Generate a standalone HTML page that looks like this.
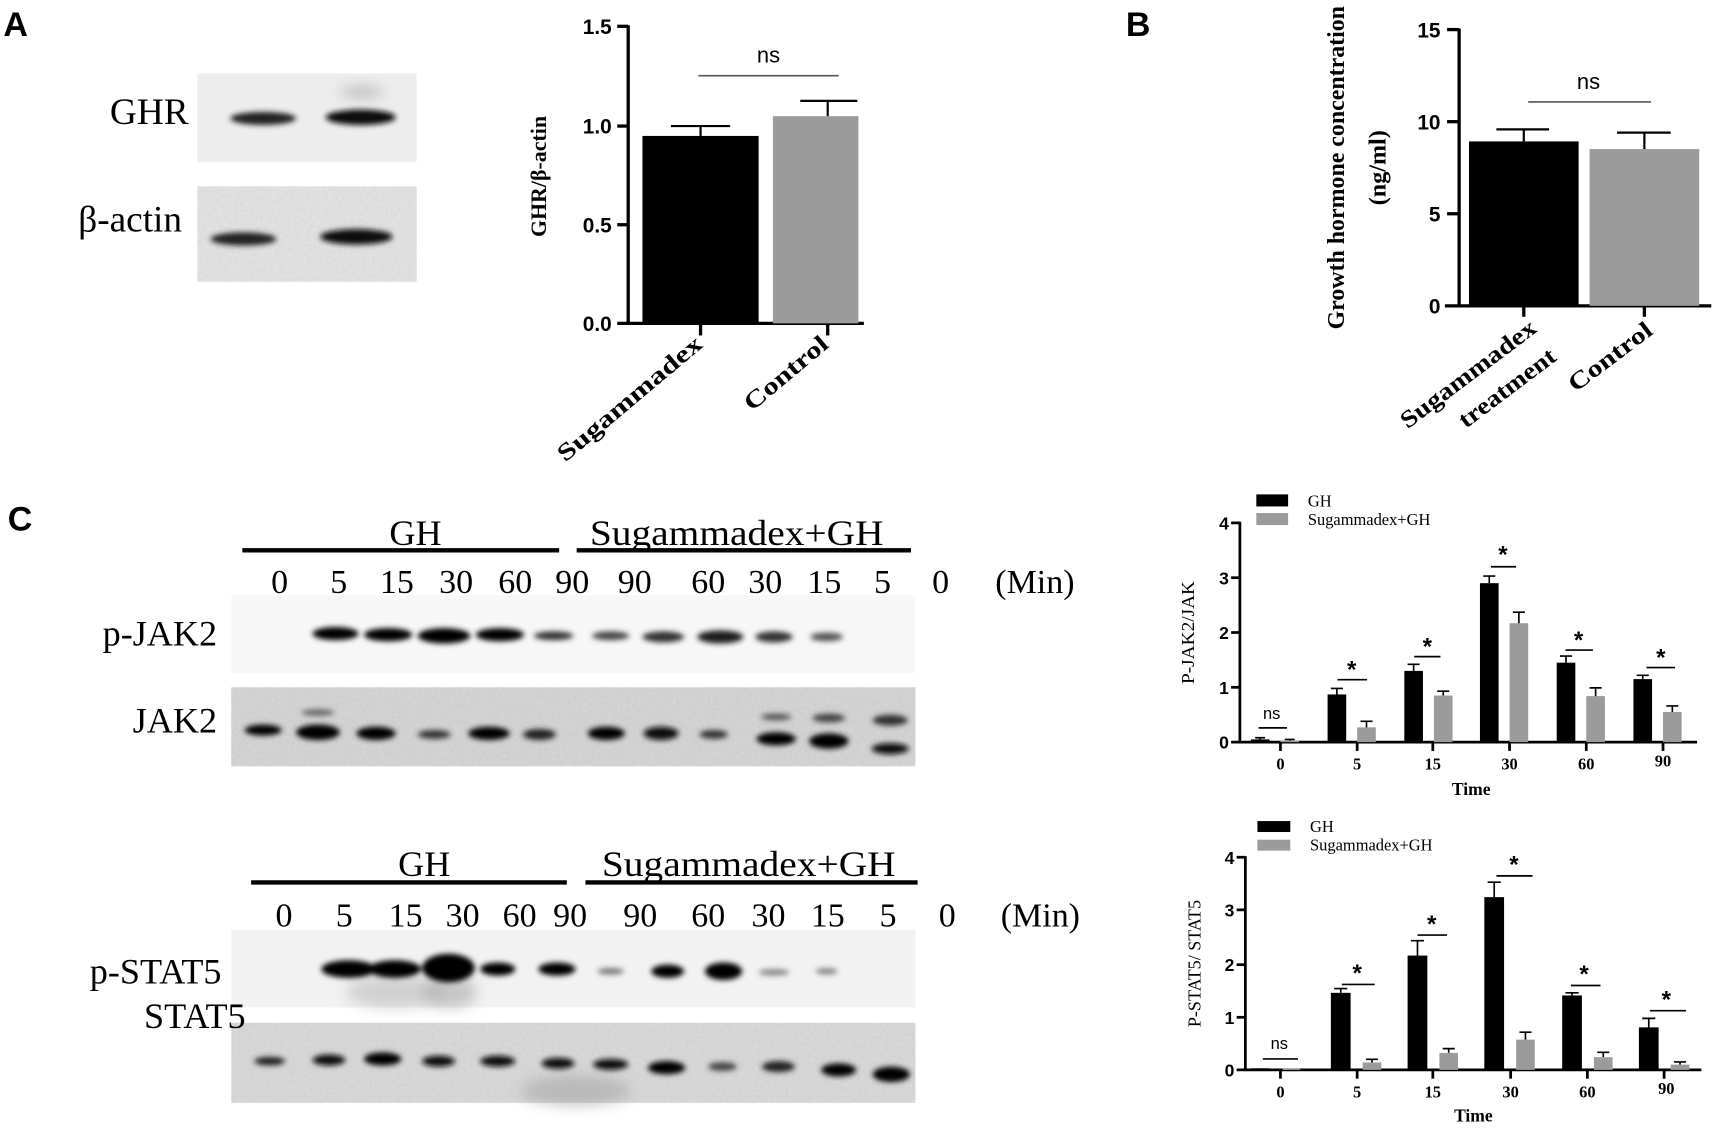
<!DOCTYPE html>
<html><head><meta charset="utf-8"><style>
html,body{margin:0;padding:0;background:#fff}
svg{display:block}
.ser{font-family:"Liberation Serif",serif}
.sans{font-family:"Liberation Sans",sans-serif}
</style></head><body>
<svg width="1719" height="1128" viewBox="0 0 1568 1029" xmlns="http://www.w3.org/2000/svg">
<defs>
<filter id="bl" x="-50%" y="-100%" width="200%" height="300%"><feGaussianBlur stdDeviation="2.5"/></filter>
<filter id="bl2" x="-50%" y="-100%" width="200%" height="300%"><feGaussianBlur stdDeviation="6"/></filter>
<filter id="nz" x="0" y="0" width="100%" height="100%"><feTurbulence type="fractalNoise" baseFrequency="0.35" numOctaves="2" seed="3"/><feColorMatrix type="matrix" values="0 0 0 0 0.5  0 0 0 0 0.5  0 0 0 0 0.5  0 0 0 -1.2 1.1"/></filter>
</defs>
<rect width="1568" height="1029" fill="#fff"/>

<!-- ===== Panel A ===== -->
<text x="3" y="33" class="sans" font-weight="bold" font-size="31">A</text>
<rect x="180" y="67" width="200" height="81" fill="#ededed"/>
<ellipse cx="330" cy="84" rx="20" ry="5" fill="#999" filter="url(#bl2)" opacity="0.6"/>
<ellipse cx="240" cy="108" rx="30" ry="6" fill="#222" filter="url(#bl)"/>
<ellipse cx="329" cy="107" rx="32" ry="7" fill="#111" filter="url(#bl)"/>
<rect x="180" y="170" width="200" height="87" fill="#e4e4e4"/>
<rect x="180" y="170" width="200" height="87" filter="url(#nz)" opacity="0.25"/>
<ellipse cx="222" cy="218" rx="30" ry="6" fill="#222" filter="url(#bl)"/>
<ellipse cx="325" cy="216" rx="33" ry="7" fill="#0d0d0d" filter="url(#bl)"/>
<text x="172" y="113" text-anchor="end" class="ser" font-size="34">GHR</text>
<text x="166" y="211" text-anchor="end" class="ser" font-size="34">β-actin</text>

<!-- A bar chart -->
<g class="sans" font-weight="bold" font-size="19" text-anchor="end">
<text x="558" y="31">1.5</text><text x="558" y="122">1.0</text><text x="558" y="212">0.5</text><text x="558" y="302">0.0</text>
</g>
<g stroke="#000" stroke-width="3">
<line x1="573" y1="23" x2="573" y2="296"/>
<line x1="563" y1="24" x2="573" y2="24"/><line x1="563" y1="115" x2="573" y2="115"/><line x1="563" y1="205" x2="573" y2="205"/>
<line x1="563" y1="295" x2="788" y2="295"/>
<line x1="639" y1="295" x2="639" y2="306"/><line x1="755" y1="295" x2="755" y2="306"/>
</g>
<rect x="586" y="124" width="106" height="171" fill="#000"/>
<rect x="705" y="106" width="78" height="189" fill="#9b9b9b"/>
<g stroke="#000" stroke-width="2">
<line x1="639" y1="124" x2="639" y2="115"/><line x1="612" y1="115" x2="666" y2="115"/>
<line x1="755" y1="106" x2="755" y2="92"/><line x1="730" y1="92" x2="782" y2="92"/>
</g>
<line x1="637" y1="69" x2="765" y2="69" stroke="#555" stroke-width="1.5"/>
<text x="701" y="57" text-anchor="middle" class="sans" font-size="20">ns</text>
<text transform="translate(498,161) rotate(-90)" text-anchor="middle" class="ser" font-weight="bold" font-size="20">GHR/β-actin</text>
<text transform="translate(642,316) rotate(-40)" text-anchor="end" class="ser" font-weight="bold" font-size="22" textLength="165" lengthAdjust="spacingAndGlyphs">Sugammadex</text>
<text transform="translate(757,316) rotate(-40)" text-anchor="end" class="ser" font-weight="bold" font-size="22" textLength="93" lengthAdjust="spacingAndGlyphs">Control</text>

<!-- ===== Panel B ===== -->
<text x="1027" y="33" class="sans" font-weight="bold" font-size="31">B</text>
<g class="sans" font-weight="bold" font-size="19" text-anchor="end">
<text x="1314" y="34">15</text><text x="1314" y="118">10</text><text x="1314" y="202">5</text><text x="1314" y="286">0</text>
</g>
<g stroke="#000" stroke-width="3">
<line x1="1331" y1="26" x2="1331" y2="280"/>
<line x1="1320" y1="27" x2="1331" y2="27"/><line x1="1320" y1="111" x2="1331" y2="111"/><line x1="1320" y1="195" x2="1331" y2="195"/>
<line x1="1318" y1="279" x2="1561" y2="279"/>
<line x1="1390" y1="279" x2="1390" y2="289"/><line x1="1500" y1="279" x2="1500" y2="289"/>
</g>
<rect x="1340" y="129" width="100" height="150" fill="#000"/>
<rect x="1450" y="136" width="100" height="143" fill="#9b9b9b"/>
<g stroke="#000" stroke-width="2">
<line x1="1390" y1="129" x2="1390" y2="118"/><line x1="1365" y1="118" x2="1413" y2="118"/>
<line x1="1500" y1="136" x2="1500" y2="121"/><line x1="1475" y1="121" x2="1524" y2="121"/>
</g>
<line x1="1394" y1="93" x2="1506" y2="93" stroke="#555" stroke-width="1.5"/>
<text x="1449" y="81" text-anchor="middle" class="sans" font-size="20">ns</text>
<text transform="translate(1226,153) rotate(-90)" text-anchor="middle" class="ser" font-weight="bold" font-size="22" textLength="295" lengthAdjust="spacingAndGlyphs">Growth hormone concentration</text>
<text transform="translate(1264,153) rotate(-90)" text-anchor="middle" class="ser" font-weight="bold" font-size="22">(ng/ml)</text>
<text transform="translate(1403,302) rotate(-37)" text-anchor="end" class="ser" font-weight="bold" font-size="22" textLength="149" lengthAdjust="spacingAndGlyphs">Sugammadex</text>
<text transform="translate(1421,328) rotate(-37)" text-anchor="end" class="ser" font-weight="bold" font-size="22" textLength="105" lengthAdjust="spacingAndGlyphs">treatment</text>
<text transform="translate(1509,304) rotate(-37)" text-anchor="end" class="ser" font-weight="bold" font-size="22" textLength="90" lengthAdjust="spacingAndGlyphs">Control</text>

<!-- ===== Panel C ===== -->
<text x="7" y="484" class="sans" font-weight="bold" font-size="31">C</text>
<!-- top blot header -->
<line x1="221" y1="502" x2="510" y2="502" stroke="#000" stroke-width="4"/>
<line x1="526" y1="502" x2="831" y2="502" stroke="#000" stroke-width="4"/>
<g class="ser" font-size="33" text-anchor="middle">
<text x="379" y="497">GH</text><text x="672" y="497" textLength="268" lengthAdjust="spacingAndGlyphs">Sugammadex+GH</text>
</g>
<g class="ser" font-size="31" text-anchor="middle">
<text x="255" y="541">0</text><text x="309" y="541">5</text><text x="362" y="541">15</text><text x="416" y="541">30</text><text x="470" y="541">60</text><text x="522" y="541">90</text><text x="579" y="541">90</text><text x="646" y="541">60</text><text x="698" y="541">30</text><text x="752" y="541">15</text><text x="805" y="541">5</text><text x="858" y="541">0</text><text x="944" y="541">(Min)</text>
</g>
<text x="198" y="589" text-anchor="end" class="ser" font-size="33">p-JAK2</text>
<text x="198" y="668" text-anchor="end" class="ser" font-size="33">JAK2</text>
<rect x="211" y="543" width="624" height="71" fill="#f7f7f7"/>
<g filter="url(#bl)">
<ellipse cx="306" cy="578" rx="21" ry="6" fill="#000"/>
<ellipse cx="354" cy="579" rx="22" ry="6" fill="#000"/>
<ellipse cx="405" cy="580" rx="24" ry="7" fill="#000"/>
<ellipse cx="456" cy="579" rx="22" ry="6" fill="#050505"/>
<ellipse cx="505" cy="580" rx="18" ry="4" fill="#333"/>
<ellipse cx="557" cy="580" rx="17" ry="4" fill="#444"/>
<ellipse cx="605" cy="581" rx="19" ry="5" fill="#333"/>
<ellipse cx="657" cy="581" rx="21" ry="6" fill="#1a1a1a"/>
<ellipse cx="706" cy="581" rx="17" ry="5" fill="#333"/>
<ellipse cx="754" cy="581" rx="15" ry="4" fill="#555"/>
</g>
<rect x="211" y="627" width="624" height="72" fill="#d6d6d6"/>
<rect x="211" y="627" width="624" height="72" filter="url(#nz)" opacity="0.35"/>
<g filter="url(#bl)">
<ellipse cx="240" cy="666" rx="17" ry="5" fill="#000"/>
<ellipse cx="290" cy="668" rx="20" ry="7" fill="#000"/>
<ellipse cx="290" cy="650" rx="15" ry="3" fill="#666"/>
<ellipse cx="343" cy="669" rx="18" ry="6" fill="#000"/>
<ellipse cx="396" cy="670" rx="15" ry="4" fill="#333"/>
<ellipse cx="446" cy="669" rx="19" ry="6" fill="#050505"/>
<ellipse cx="492" cy="670" rx="15" ry="5" fill="#222"/>
<ellipse cx="553" cy="669" rx="17" ry="6" fill="#050505"/>
<ellipse cx="603" cy="669" rx="16" ry="6" fill="#111"/>
<ellipse cx="651" cy="670" rx="13" ry="4" fill="#333"/>
<ellipse cx="708" cy="674" rx="18" ry="6" fill="#000"/>
<ellipse cx="708" cy="654" rx="14" ry="3" fill="#555"/>
<ellipse cx="756" cy="676" rx="18" ry="7" fill="#000"/>
<ellipse cx="756" cy="655" rx="15" ry="4" fill="#444"/>
<ellipse cx="812" cy="683" rx="17" ry="5" fill="#111"/>
<ellipse cx="812" cy="657" rx="16" ry="5" fill="#333"/>
</g>

<!-- bottom blot header -->
<line x1="229" y1="805" x2="517" y2="805" stroke="#000" stroke-width="4"/>
<line x1="534" y1="805" x2="837" y2="805" stroke="#000" stroke-width="4"/>
<g class="ser" font-size="33" text-anchor="middle">
<text x="387" y="799">GH</text><text x="683" y="799" textLength="268" lengthAdjust="spacingAndGlyphs">Sugammadex+GH</text>
</g>
<g class="ser" font-size="31" text-anchor="middle">
<text x="259" y="845">0</text><text x="314" y="845">5</text><text x="370" y="845">15</text><text x="422" y="845">30</text><text x="474" y="845">60</text><text x="520" y="845">90</text><text x="584" y="845">90</text><text x="646" y="845">60</text><text x="701" y="845">30</text><text x="755" y="845">15</text><text x="810" y="845">5</text><text x="864" y="845">0</text><text x="949" y="845">(Min)</text>
</g>
<rect x="211" y="848" width="624" height="71" fill="#f2f2f2"/>
<ellipse cx="360" cy="905" rx="45" ry="15" fill="#bbb" filter="url(#bl2)" opacity="0.6"/>
<ellipse cx="410" cy="905" rx="25" ry="15" fill="#aaa" filter="url(#bl2)" opacity="0.6"/>
<g filter="url(#bl)">
<ellipse cx="318" cy="884" rx="25" ry="8" fill="#000"/>
<ellipse cx="360" cy="884" rx="24" ry="8" fill="#000"/>
<ellipse cx="409" cy="883" rx="24" ry="13" fill="#000"/>
<ellipse cx="454" cy="884" rx="16" ry="6" fill="#050505"/>
<ellipse cx="508" cy="884" rx="17" ry="6" fill="#000"/>
<ellipse cx="557" cy="886" rx="12" ry="3" fill="#777"/>
<ellipse cx="609" cy="886" rx="15" ry="6" fill="#050505"/>
<ellipse cx="660" cy="886" rx="17" ry="8" fill="#000"/>
<ellipse cx="706" cy="887" rx="14" ry="3" fill="#888"/>
<ellipse cx="754" cy="886" rx="10" ry="3" fill="#888"/>
</g>
<text x="202" y="897" text-anchor="end" class="ser" font-size="33">p-STAT5</text>
<rect x="211" y="933" width="624" height="73" fill="#dadada"/>
<ellipse cx="525" cy="995" rx="50" ry="14" fill="#999" filter="url(#bl2)" opacity="0.5"/>
<rect x="211" y="933" width="624" height="73" filter="url(#nz)" opacity="0.3"/>
<text x="224" y="938" text-anchor="end" class="ser" font-size="33">STAT5</text>
<g filter="url(#bl)">
<ellipse cx="246" cy="968" rx="14" ry="4" fill="#222"/>
<ellipse cx="300" cy="967" rx="15" ry="5" fill="#111"/>
<ellipse cx="349" cy="966" rx="17" ry="6" fill="#000"/>
<ellipse cx="400" cy="968" rx="15" ry="5" fill="#111"/>
<ellipse cx="454" cy="968" rx="16" ry="5" fill="#111"/>
<ellipse cx="509" cy="970" rx="15" ry="5" fill="#111"/>
<ellipse cx="557" cy="971" rx="16" ry="5" fill="#111"/>
<ellipse cx="608" cy="974" rx="17" ry="6" fill="#000"/>
<ellipse cx="659" cy="973" rx="13" ry="4" fill="#444"/>
<ellipse cx="710" cy="973" rx="15" ry="5" fill="#222"/>
<ellipse cx="765" cy="976" rx="16" ry="6" fill="#000"/>
<ellipse cx="813" cy="980" rx="17" ry="7" fill="#000"/>
</g>

<!-- ===== C chart top ===== -->
<rect x="1146" y="451" width="29" height="11" fill="#000"/>
<rect x="1146" y="468" width="29" height="11" fill="#9b9b9b"/>
<text x="1193" y="462" class="ser" font-size="15">GH</text>
<text x="1193" y="479" class="ser" font-size="15">Sugammadex+GH</text>
<g class="sans" font-weight="bold" font-size="16" text-anchor="end">
<text x="1121" y="483">4</text><text x="1121" y="533">3</text><text x="1121" y="583">2</text><text x="1121" y="633">1</text><text x="1121" y="683">0</text>
</g>
<g stroke="#000" stroke-width="2.5">
<line x1="1131" y1="476" x2="1131" y2="677"/>
<line x1="1123" y1="477" x2="1131" y2="477"/><line x1="1123" y1="527" x2="1131" y2="527"/><line x1="1123" y1="577" x2="1131" y2="577"/><line x1="1123" y1="627" x2="1131" y2="627"/>
<line x1="1123" y1="677" x2="1548" y2="677"/>
<line x1="1168" y1="677" x2="1168" y2="685"/><line x1="1238" y1="677" x2="1238" y2="685"/><line x1="1307" y1="677" x2="1307" y2="685"/><line x1="1377" y1="677" x2="1377" y2="685"/><line x1="1447" y1="677" x2="1447" y2="685"/><line x1="1517" y1="677" x2="1517" y2="685"/>
</g>
<g fill="#000">
<rect x="1141" y="674.5" width="17" height="2.5"/>
<rect x="1211" y="633.5" width="17" height="43.5"/>
<rect x="1281" y="612" width="17" height="65"/>
<rect x="1350" y="532" width="17" height="145"/>
<rect x="1420" y="604.5" width="17" height="72.5"/>
<rect x="1490" y="619.5" width="17" height="57.5"/>
</g>
<g fill="#9b9b9b">
<rect x="1168" y="675.5" width="17" height="1.5"/>
<rect x="1238" y="663.5" width="17" height="13.5"/>
<rect x="1308" y="634.5" width="17" height="42.5"/>
<rect x="1377" y="568.5" width="17" height="108.5"/>
<rect x="1447" y="635" width="17" height="42"/>
<rect x="1517" y="649.5" width="17" height="27.5"/>
</g>
<g stroke="#000" stroke-width="1.5">
<path d="M1149.5 674.5V673M1145 673h9"/>
<path d="M1219.5 633.5V628M1214 628h11M1289.5 612V606M1284 606h11M1358.5 532V525.5M1353 525.5h11M1428.5 604.5V598.5M1423 598.5h11M1498.5 619.5V616M1493 616h11"/>
<path d="M1176.5 675.5V674.5M1172 674.5h9M1246.5 663.5V658M1241 658h11M1316.5 634.5V630.5M1311 630.5h11M1385.5 568.5V558.5M1380 558.5h11M1455.5 635V627.5M1450 627.5h11M1525.5 649.5V644M1520 644h11"/>
</g>
<g stroke="#000" stroke-width="1.5">
<line x1="1148" y1="664" x2="1174" y2="664"/>
<line x1="1220" y1="620" x2="1247" y2="620"/>
<line x1="1290" y1="599" x2="1314" y2="599"/>
<line x1="1360" y1="517" x2="1383" y2="517"/>
<line x1="1428" y1="593" x2="1453" y2="593"/>
<line x1="1502" y1="609" x2="1528" y2="609"/>
</g>
<text x="1160" y="656" text-anchor="middle" class="sans" font-size="15">ns</text>
<g class="sans" font-weight="bold" font-size="22" text-anchor="middle">
<text x="1233" y="618">*</text><text x="1302" y="597">*</text><text x="1371" y="513">*</text><text x="1440" y="591">*</text><text x="1515" y="607">*</text>
</g>
<g class="ser" font-weight="bold" font-size="15" text-anchor="middle">
<text x="1168" y="702">0</text><text x="1238" y="702">5</text><text x="1307" y="702">15</text><text x="1377" y="702">30</text><text x="1447" y="702">60</text><text x="1517" y="699">90</text>
</g>
<text x="1342" y="725" text-anchor="middle" class="ser" font-weight="bold" font-size="16">Time</text>
<text transform="translate(1089,577) rotate(-90)" text-anchor="middle" class="ser" font-size="16" textLength="94" lengthAdjust="spacingAndGlyphs">P-JAK2/JAK</text>

<!-- ===== C chart bottom ===== -->
<rect x="1147" y="749" width="30" height="10" fill="#000"/>
<rect x="1147" y="766" width="30" height="10" fill="#9b9b9b"/>
<text x="1195" y="759" class="ser" font-size="15">GH</text>
<text x="1195" y="776" class="ser" font-size="15">Sugammadex+GH</text>
<g class="sans" font-weight="bold" font-size="16" text-anchor="end">
<text x="1126" y="788">4</text><text x="1126" y="836">3</text><text x="1126" y="886">2</text><text x="1126" y="934">1</text><text x="1126" y="982">0</text>
</g>
<g stroke="#000" stroke-width="2.5">
<line x1="1136" y1="781" x2="1136" y2="976"/>
<line x1="1128" y1="782" x2="1136" y2="782"/><line x1="1128" y1="830" x2="1136" y2="830"/><line x1="1128" y1="880" x2="1136" y2="880"/><line x1="1128" y1="928" x2="1136" y2="928"/>
<line x1="1128" y1="976" x2="1552" y2="976"/>
<line x1="1168" y1="976" x2="1168" y2="984"/><line x1="1238" y1="976" x2="1238" y2="984"/><line x1="1307" y1="976" x2="1307" y2="984"/><line x1="1378" y1="976" x2="1378" y2="984"/><line x1="1448" y1="976" x2="1448" y2="984"/><line x1="1518" y1="976" x2="1518" y2="984"/>
</g>
<g fill="#000">
<rect x="1141" y="974.5" width="17" height="1.5"/>
<rect x="1214" y="905.7" width="18" height="70.3"/>
<rect x="1284" y="871.7" width="18" height="104.3"/>
<rect x="1354" y="818.4" width="18" height="157.6"/>
<rect x="1425" y="908.1" width="18" height="67.9"/>
<rect x="1495" y="937.2" width="18" height="38.8"/>
</g>
<g fill="#9b9b9b">
<rect x="1170" y="974.5" width="16" height="1.5"/>
<rect x="1243" y="969.2" width="17" height="6.8"/>
<rect x="1313" y="960.5" width="17" height="15.5"/>
<rect x="1383" y="948.4" width="17" height="27.6"/>
<rect x="1454" y="964.4" width="17" height="11.6"/>
<rect x="1524" y="971.2" width="17" height="4.8"/>
</g>
<g stroke="#000" stroke-width="1.5">
<path d="M1223 905.7V901.8M1217 901.8h12M1293 871.7V858.1M1287 858.1h12M1363 818.4V804.8M1357 804.8h12M1434 908.1V905.7M1428 905.7h12M1504 937.2V929M1498 929h12"/>
<path d="M1251.5 969.2V966.3M1246 966.3h11M1321.5 960.5V956.6M1316 956.6h11M1391.5 948.4V941.6M1386 941.6h11M1462.5 964.4V960M1457 960h11M1532.5 971.2V968.7M1527 968.7h11"/>
</g>
<g stroke="#000" stroke-width="1.5">
<line x1="1152" y1="966" x2="1184" y2="966"/>
<line x1="1224" y1="898" x2="1254" y2="898"/>
<line x1="1293" y1="853" x2="1320" y2="853"/>
<line x1="1365" y1="799" x2="1398" y2="799"/>
<line x1="1433" y1="899" x2="1460" y2="899"/>
<line x1="1505" y1="922" x2="1538" y2="922"/>
</g>
<text x="1167" y="957" text-anchor="middle" class="sans" font-size="15">ns</text>
<g class="sans" font-weight="bold" font-size="22" text-anchor="middle">
<text x="1238" y="895">*</text><text x="1306" y="850">*</text><text x="1381" y="796">*</text><text x="1445" y="896">*</text><text x="1520" y="919">*</text>
</g>
<g class="ser" font-weight="bold" font-size="15" text-anchor="middle">
<text x="1168" y="1001">0</text><text x="1238" y="1001">5</text><text x="1307" y="1001">15</text><text x="1378" y="1001">30</text><text x="1448" y="1001">60</text><text x="1520" y="998">90</text>
</g>
<text x="1344" y="1023" text-anchor="middle" class="ser" font-weight="bold" font-size="16">Time</text>
<text transform="translate(1095,879) rotate(-90)" text-anchor="middle" class="ser" font-size="16" textLength="116" lengthAdjust="spacingAndGlyphs">P-STAT5/ STAT5</text>
</svg>
</body></html>
